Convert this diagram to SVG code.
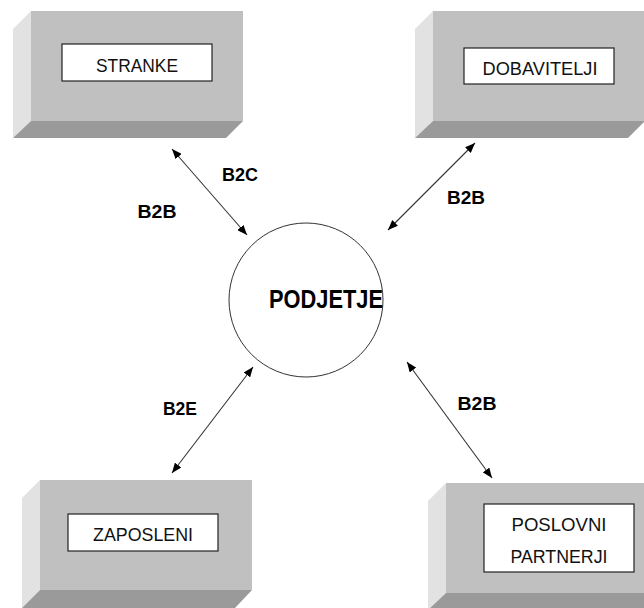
<svg xmlns="http://www.w3.org/2000/svg" width="644" height="608" viewBox="0 0 644 608">
<defs>
<style>
.front{fill:#c0c0c0}
.side{fill:#e2e2e2}
.bottom{fill:#9a9a9a}
.lbl{fill:#fff;stroke:#222;stroke-width:1.2}
.t{font-family:"Liberation Sans",Arial,sans-serif;font-size:19px;fill:#111;text-anchor:middle}
.b{font-family:"Liberation Sans",Arial,sans-serif;font-size:18px;font-weight:bold;fill:#000;text-anchor:middle}
.conn line{stroke:#333;stroke-width:1.1;marker-start:url(#ah);marker-end:url(#ah)}
</style>
<marker id="ah" viewBox="0 0 10 8" refX="10" refY="4" markerWidth="10" markerHeight="8" markerUnits="userSpaceOnUse" orient="auto-start-reverse">
<path d="M0,0 L10,4 L0,8 z" fill="#000"/>
</marker>
</defs>
<rect width="644" height="608" fill="#fff"/>

<g id="stranke">
<polygon class="side" points="31,11 13,29 13,138 31,121"/>
<polygon class="bottom" points="31,121 243,121 226,138 13,138"/>
<rect class="front" x="31" y="11" width="212" height="110"/>
<rect class="lbl" x="62" y="44" width="150" height="37"/>
<text class="t" x="137" y="72" textLength="82" lengthAdjust="spacingAndGlyphs">STRANKE</text>
</g>

<g id="dobavitelji">
<polygon class="side" points="433,11 415,29 415,138 433,121"/>
<polygon class="bottom" points="433,121 645,121 628,138 415,138"/>
<rect class="front" x="433" y="11" width="212" height="110"/>
<rect class="lbl" x="464" y="48" width="150" height="36"/>
<text class="t" x="540" y="75" textLength="115" lengthAdjust="spacingAndGlyphs">DOBAVITELJI</text>
</g>

<g id="zaposleni">
<polygon class="side" points="40,480 22,498 22,608 40,590"/>
<polygon class="bottom" points="40,590 252,590 235,608 22,608"/>
<rect class="front" x="40" y="480" width="212" height="110"/>
<rect class="lbl" x="68" y="514" width="150" height="37"/>
<text class="t" x="143" y="541" textLength="100" lengthAdjust="spacingAndGlyphs">ZAPOSLENI</text>
</g>

<g id="poslovni">
<polygon class="side" points="446,483 428,501 428,610 446,593"/>
<polygon class="bottom" points="446,593 660,593 643,610 428,610"/>
<rect class="front" x="446" y="483" width="212" height="110"/>
<rect class="lbl" x="484" y="504" width="150" height="68"/>
<text class="t" x="559" y="531" textLength="95" lengthAdjust="spacingAndGlyphs">POSLOVNI</text>
<text class="t" x="559" y="563" textLength="97" lengthAdjust="spacingAndGlyphs">PARTNERJI</text>
</g>

<g id="podjetje">
<circle cx="306" cy="300" r="77" fill="#fff" stroke="#333" stroke-width="1"/>
<text class="b" x="326" y="308" textLength="114" lengthAdjust="spacingAndGlyphs" style="font-size:26px">PODJETJE</text>
</g>

<g id="connectors" class="conn">
<line x1="172" y1="149" x2="247" y2="235"/>
<line x1="475" y1="143" x2="388" y2="230"/>
<line x1="253" y1="367" x2="172" y2="473"/>
<line x1="407" y1="362" x2="492" y2="478"/>
</g>

<g id="labels">
<text class="b" x="240" y="181" textLength="36" lengthAdjust="spacingAndGlyphs">B2C</text>
<text class="b" x="157" y="218" textLength="39" lengthAdjust="spacingAndGlyphs">B2B</text>
<text class="b" x="466" y="204" textLength="38" lengthAdjust="spacingAndGlyphs">B2B</text>
<text class="b" x="180" y="415" textLength="34" lengthAdjust="spacingAndGlyphs">B2E</text>
<text class="b" x="477" y="410" textLength="39" lengthAdjust="spacingAndGlyphs">B2B</text>
</g>
</svg>
